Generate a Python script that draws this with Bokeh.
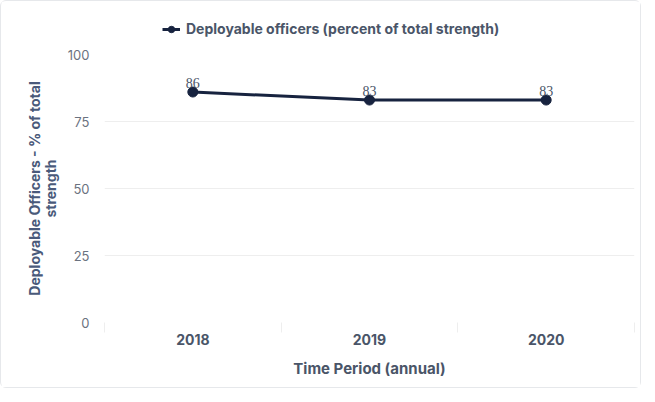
from bokeh.plotting import figure
from bokeh.layouts import column
from bokeh.models import Range1d, FixedTicker, Legend, LegendItem, ColumnDataSource
from bokeh.embed import file_html
from bokeh.resources import INLINE

years = ["2018", "2019", "2020"]
values = [86, 83, 83]
y_ticks = [0, 25, 50, 75, 100]
series_name = "Deployable officers (percent of total strength)"

FONT = "Inter"
LINE = "#17233f"

xs = [i + 0.5 for i in range(len(years))]
src = ColumnDataSource(dict(x=xs, y=values, lbl=[str(v) for v in values]))

W = 639
LEG_H = 45

# ---- legend strip (same series, drawn off-view so only its legend shows) ----
lg = figure(width=W, height=LEG_H, output_backend="svg", toolbar_location=None,
            x_range=Range1d(0, 1), y_range=Range1d(-2, -1),
            min_border_left=0, min_border_right=0, min_border_top=0, min_border_bottom=0)
lg.axis.visible = False
lg.grid.visible = False
lg.outline_line_color = None
lg.border_fill_color = "white"
l_line = lg.line("x", "y", source=src, line_color=LINE, line_width=3)
l_pts = lg.scatter("x", "y", source=src, size=10, fill_color=LINE, line_color=LINE)
legend = Legend(items=[LegendItem(label=series_name, renderers=[l_line, l_pts])],
                location=(58, 9), orientation="horizontal",
                border_line_color=None, background_fill_alpha=0,
                padding=0, margin=0, glyph_width=18, glyph_height=16,
                label_height=16, label_standoff=6,
                label_text_font=FONT, label_text_font_style="bold",
                label_text_font_size="14px", label_text_color="#4a5568")
lg.add_layout(legend)

# ---- main chart ----
p = figure(width=W, height=386 - LEG_H, output_backend="svg", toolbar_location=None,
           x_range=Range1d(0, len(years)), y_range=Range1d(0, 100),
           min_border_left=103, min_border_right=6, min_border_top=53 - LEG_H,
           min_border_bottom=65)
p.outline_line_color = None
p.background_fill_color = "white"
p.border_fill_color = "white"

p.line("x", "y", source=src, line_color=LINE, line_width=3)
p.scatter("x", "y", source=src, size=10, fill_color=LINE, line_color=LINE)
p.text("x", "y", text="lbl", source=src, text_align="center", text_baseline="bottom",
       y_offset=-4, text_font_size="14px", text_color="#4a5568", text_font=FONT)

p.xaxis.ticker = FixedTicker(ticks=xs, minor_ticks=list(range(len(years) + 1)))
p.xaxis.major_label_overrides = {x: y for x, y in zip(xs, years)}
p.xaxis.major_tick_line_color = None
p.xaxis.major_tick_out = 0
p.xaxis.major_tick_in = 0
p.xaxis.minor_tick_out = 10
p.xaxis.minor_tick_in = 0
p.xaxis.minor_tick_line_color = "#eeeeee"
p.xaxis.axis_line_color = None
p.xaxis.major_label_standoff = 1
p.xaxis.major_label_text_font = FONT
p.xaxis.major_label_text_font_style = "bold"
p.xaxis.major_label_text_font_size = "14px"
p.xaxis.major_label_text_color = "#4a5568"
p.xaxis.axis_label = "Time Period (annual)"
p.xaxis.axis_label_text_font = FONT
p.xaxis.axis_label_text_font_style = "bold"
p.xaxis.axis_label_text_font_size = "15px"
p.xaxis.axis_label_text_color = "#4a5568"
p.xaxis.axis_label_standoff = 11

p.yaxis.ticker = FixedTicker(ticks=y_ticks)
p.yaxis.major_tick_line_color = None
p.yaxis.minor_tick_line_color = None
p.yaxis.major_tick_out = 0
p.yaxis.axis_line_color = None
p.yaxis.major_label_standoff = 15
p.yaxis.major_label_text_font = FONT
p.yaxis.major_label_text_font_size = "13px"
p.yaxis.major_label_text_color = "#6b7280"
p.yaxis.axis_label = "Deployable Officers - % of total\nstrength"
p.yaxis.axis_label_text_font = FONT
p.yaxis.axis_label_text_font_style = "bold"
p.yaxis.axis_label_text_font_size = "14px"
p.yaxis.axis_label_text_color = "#4a5a7a"
p.yaxis.axis_label_text_line_height = 0.9
p.yaxis.axis_label_standoff = 6

p.xgrid.grid_line_color = None
p.ygrid.grid_line_color = "#eeeeee"

layout = column(lg, p, spacing=0)
layout.styles = {"border": "1px solid #e6e8eb", "border-radius": "6px", "background": "white"}

open("out.html", "w").write(file_html(layout, INLINE))
